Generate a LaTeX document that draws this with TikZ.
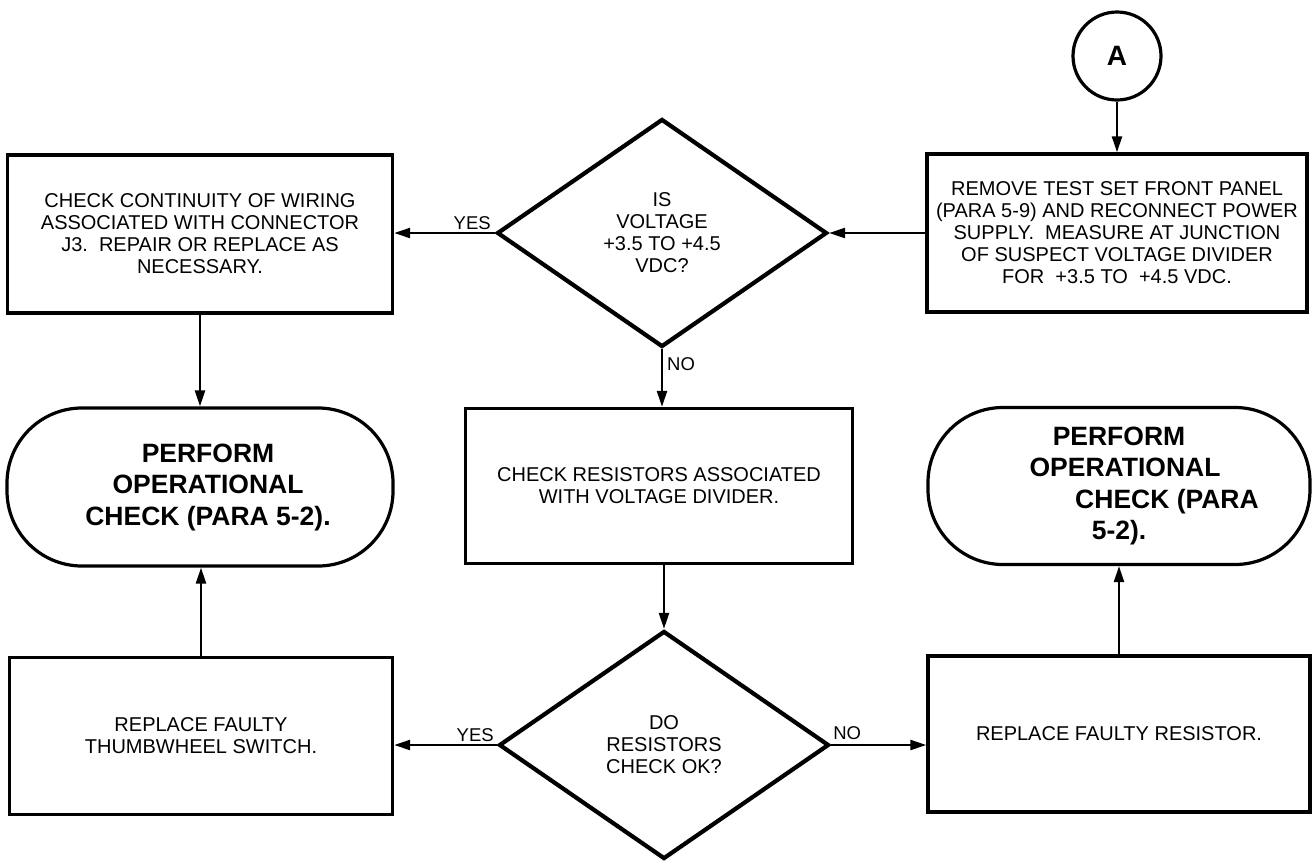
\documentclass[tikz,border=0pt]{standalone}
\usepackage{fontspec}
\setmainfont{Liberation Sans}
\usetikzlibrary{shapes.geometric,arrows.meta}
\begin{document}
\begin{tikzpicture}[x=1pt,y=-1pt,
  box/.style={draw,line width=3.4pt,rectangle,inner sep=0pt,align=center,font=\fontsize{20}{22}\selectfont},
  term/.style={draw,line width=3.2pt,rectangle,rounded corners=75pt,inner sep=0pt,align=center,font=\fontsize{26.5}{31.5}\selectfont\bfseries},
  dia/.style={draw,line width=4.2pt,diamond,inner sep=0pt,minimum width=330pt,minimum height=228pt,align=center,font=\fontsize{20}{22}\selectfont},
  conn/.style={line width=2.4pt,-{Triangle[length=16pt,width=10pt]}},
  lbl/.style={font=\fontsize{18.5}{20}\selectfont,inner sep=0pt},
]
\useasboundingbox (0,0) rectangle (1312,863);

\node[circle,draw,line width=3.2pt,minimum size=88pt,inner sep=0pt,font=\fontsize{28}{30}\selectfont\bfseries] (A) at (1117,56) {A};
\node[box,minimum width=380pt,minimum height=158pt] (rt) at (1117,233) {REMOVE TEST SET FRONT PANEL\\(PARA 5-9) AND RECONNECT POWER\\SUPPLY.\ \ MEASURE AT JUNCTION\\OF SUSPECT VOLTAGE DIVIDER\\FOR \ +3.5 TO \ +4.5 VDC.};
\node[dia] (d1) at (662,233) {IS\\VOLTAGE\\+3.5 TO +4.5\\VDC?};
\node[box,minimum width=385pt,minimum height=158pt] (lt) at (200,234) {CHECK CONTINUITY OF WIRING\\ASSOCIATED WITH CONNECTOR\\J3.\ \ REPAIR OR REPLACE AS\\NECESSARY.};
\node[term,minimum width=386pt,minimum height=158pt] (lterm) at (200,487) {\hspace*{16pt}PERFORM\\\hspace*{16pt}OPERATIONAL\\\hspace*{16pt}CHECK (PARA 5-2).};
\node[box,minimum width=387pt,minimum height=155pt] (mid) at (659,486) {CHECK RESISTORS ASSOCIATED\\WITH VOLTAGE DIVIDER.};
\node[term,minimum width=382pt,minimum height=157pt] (rterm) at (1119,486) {PERFORM\\\hspace*{12pt}OPERATIONAL\\\hspace*{96pt}CHECK (PARA\\5-2).};
\node[dia] (d2) at (664,745) {DO\\RESISTORS\\CHECK OK?};
\node[box,minimum width=383pt,minimum height=157pt] (lb) at (201,736) {REPLACE FAULTY\\THUMBWHEEL SWITCH.};
\node[box,minimum width=382pt,minimum height=156pt] (rb) at (1119,734) {REPLACE FAULTY RESISTOR.};

\draw[conn] (A.south) -- (A.south |- rt.north);
\draw[conn] (rt.west) -- (d1.east);
\draw[conn] (d1.west) -- (d1.west -| lt.east);
\draw[conn] (d1.south) -- (d1.south |- mid.north);
\draw[conn] (lt.south) -- (lt.south |- lterm.north);
\draw[conn] (d2.north |- mid.south) -- (d2.north);
\draw[conn] (d2.west) -- (d2.west -| lb.east);
\draw[conn] (d2.east) -- (d2.east -| rb.west);
\draw[conn] (lb.north) -- (lb.north |- lterm.south);
\draw[conn] (rb.north) -- (rb.north |- rterm.south);

\node[lbl,anchor=south east] (yes1) at ([xshift=-4pt,yshift=3pt]d1.west) {YES};
\node[lbl,anchor=north west] (no1) at ([xshift=5pt,yshift=-8pt]d1.south) {NO};
\node[lbl,anchor=south east] (yes2) at ([xshift=-3pt,yshift=3pt]d2.west) {YES};
\node[lbl,anchor=south west] (no2) at ([xshift=2pt,yshift=5pt]d2.east) {NO};
\end{tikzpicture}
\end{document}
